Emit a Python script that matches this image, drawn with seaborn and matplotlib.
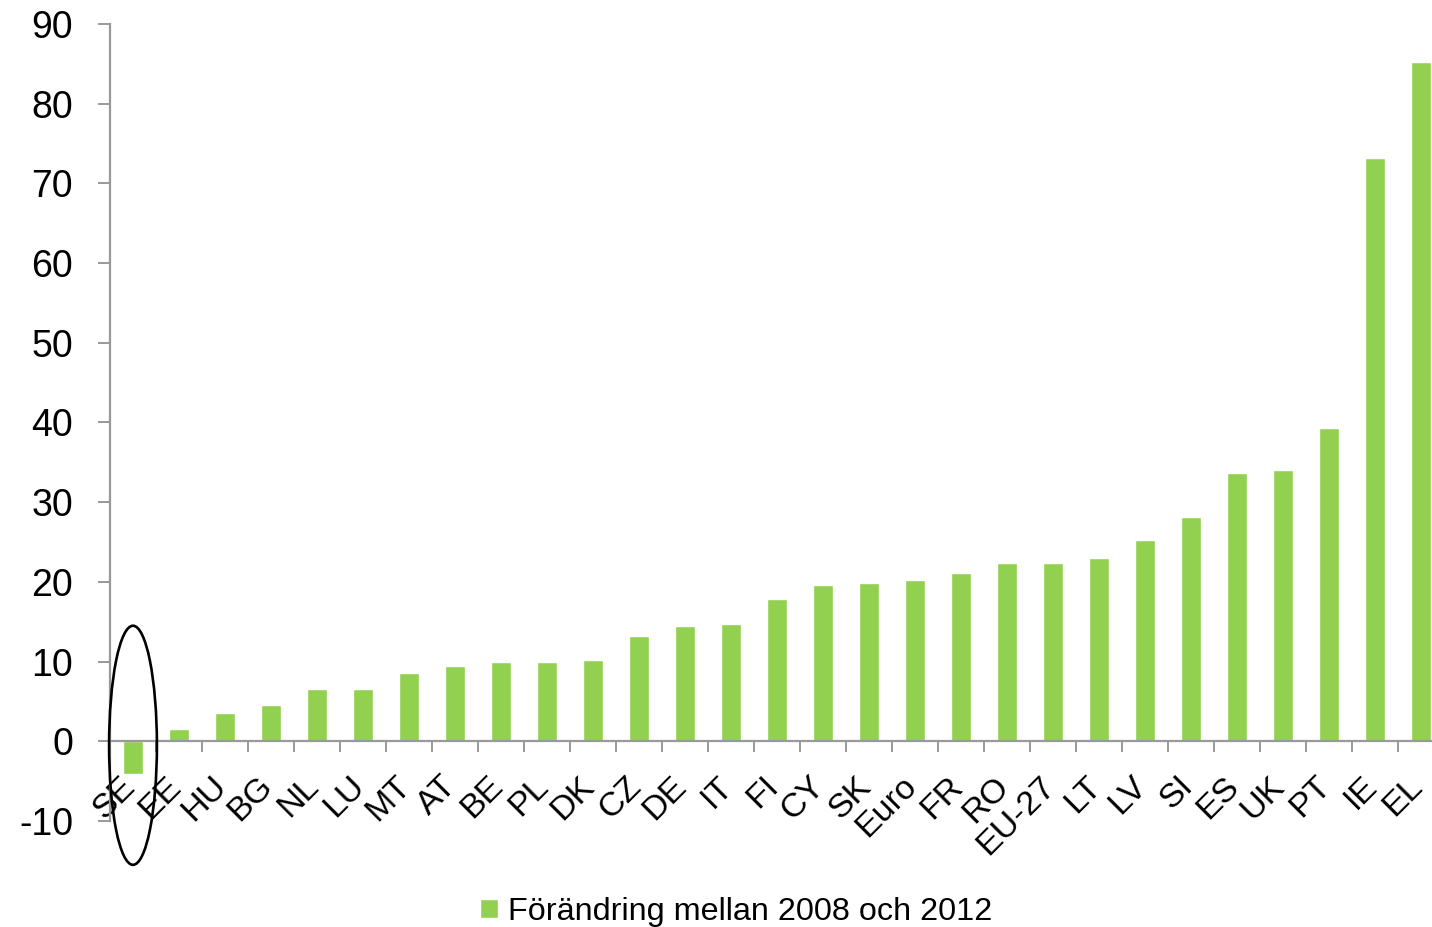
import matplotlib
matplotlib.use("Agg")
import matplotlib.pyplot as plt
import matplotlib.transforms as mtransforms
import seaborn as sns
import numpy as np
from matplotlib.patches import Ellipse
from matplotlib.ticker import FixedLocator

countries = ["SE", "EE", "HU", "BG", "NL", "LU", "MT", "AT", "BE", "PL", "DK", "CZ",
             "DE", "IT", "FI", "CY", "SK", "Euro", "FR", "RO", "EU-27", "LT", "LV",
             "SI", "ES", "UK", "PT", "IE", "EL"]
change = [-4.1, 1.5, 3.6, 4.6, 6.5, 6.6, 8.6, 9.5, 9.9, 10.0, 10.2, 13.2,
          14.5, 14.7, 17.9, 19.6, 19.8, 20.3, 21.1, 22.4, 22.4, 23.0, 25.3,
          28.2, 33.7, 34.1, 39.3, 73.2, 85.2]
series_label = "Förändring mellan 2008 och 2012"
yticks = [-10, 0, 10, 20, 30, 40, 50, 60, 70, 80, 90]

green = "#92D050"
grey = "#999999"

sns.set_style("white")
plt.rcParams["font.family"] = ["Liberation Sans", "DejaVu Sans"]
plt.rcParams["text.color"] = "black"

fig = plt.figure(figsize=(14.32, 9.27), dpi=100)
ax = fig.add_axes([110 / 1432, 106 / 927, 1334 / 1432, 797 / 927])

sns.barplot(x=countries, y=change, color=green, saturation=1, width=0.43,
            label=series_label, ax=ax)

ax.set_ylim(-10, 90)
ax.set_xlim(-0.5, len(countries) - 0.5)
ax.set_yticks(yticks)
ax.set_yticklabels([str(t) for t in yticks], fontsize=27)

for s in ["top", "right"]:
    ax.spines[s].set_visible(False)
ax.spines["left"].set_color(grey)
ax.spines["left"].set_linewidth(1.6)
ax.spines["bottom"].set_position(("data", 0))
ax.spines["bottom"].set_color(grey)
ax.spines["bottom"].set_linewidth(1.6)

ax.tick_params(axis="y", direction="out", length=8.5, width=1.4, color=grey,
               pad=18, left=True, labelcolor="black")
ax.tick_params(axis="x", which="major", length=0, pad=29, bottom=True,
               labelcolor="black")
ax.xaxis.set_minor_locator(FixedLocator(np.arange(0.5, len(countries), 1)))
ax.tick_params(axis="x", which="minor", direction="out", length=8, width=1.4,
               color=grey, bottom=True)
shift = mtransforms.ScaledTranslation(-0.03, 0, fig.dpi_scale_trans)
for lab in ax.get_xticklabels():
    lab.set_rotation(45)
    lab.set_rotation_mode("anchor")
    lab.set_ha("right")
    lab.set_va("center")
    lab.set_fontsize(24.5)
    lab.set_transform(lab.get_transform() + shift)
ax.set_xlabel("")
ax.set_ylabel("")

# ring round Sweden
ring = Ellipse((0, -0.5), width=1.04, height=30, fill=False, edgecolor="black",
               linewidth=1.9, clip_on=False, zorder=5)
ax.add_patch(ring)

leg = ax.legend(loc="lower center", bbox_to_anchor=(736 / 1432, 0.0),
                bbox_transform=fig.transFigure, frameon=False, fontsize=23.3,
                handlelength=0.55, handleheight=0.55, handletextpad=0.3,
                borderpad=0, borderaxespad=0)
for t in leg.get_texts():
    t.set_color("black")

fig.savefig("out.png", dpi=100)
